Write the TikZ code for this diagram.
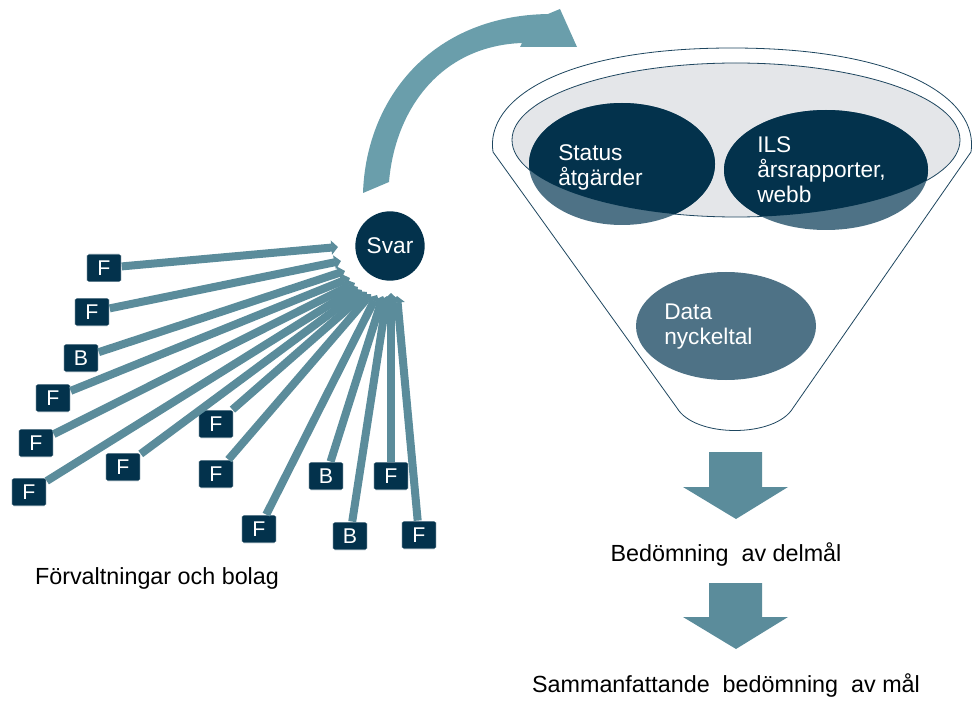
\documentclass[tikz,border=0pt]{standalone}
\usepackage{fontspec}
\setmainfont{Liberation Sans}
\usepackage{xcolor}
\usepackage{tikz}
\usetikzlibrary{positioning,arrows.meta}

\definecolor{navy}{RGB}{3,50,76}
\definecolor{feedteal}{RGB}{91,140,155}
\definecolor{bendteal}{RGB}{106,158,171}
\definecolor{slate}{RGB}{78,114,134}
\definecolor{bowlgrey}{RGB}{228,230,233}
\definecolor{rimline}{RGB}{30,70,95}

\tikzset{
  org/.style={draw=white, line width=0.6pt, fill=navy, text=white, rounded corners=1.5pt,
    minimum width=26pt, minimum height=21pt, inner sep=0pt, font=\fontsize{16}{18}\selectfont},
  feed/.style={feedteal, line width=6pt, -{Triangle[length=5pt,width=10.5pt]}},
  txt/.style={inner sep=0pt, align=left, font=\fontsize{17}{18.75}\selectfont},
  caption/.style={inner sep=0pt, font=\fontsize{17.5}{19}\selectfont}
}

\begin{document}
\begin{tikzpicture}[x=0.75pt,y=-0.75pt]
\useasboundingbox (0,0) rectangle (974,702);

\draw[rimline, line width=0.6pt, fill=white] (677,408) -- (493,152) .. controls (485,100) and (560,48) .. (732,48) .. controls (904,48) and (979,100) .. (971,152) -- (793,408) .. controls (775,438) and (695,438) .. (677,408) -- cycle;
\draw[rimline, line width=0.6pt, fill=bowlgrey] (736,140) ellipse [x radius=224, y radius=77];
\fill[slate] (622,164) ellipse [x radius=93, y radius=61];
\fill[slate] (826,170) ellipse [x radius=102, y radius=60];
\fill[slate] (726,326) ellipse [x radius=90, y radius=54];
\begin{scope}
\clip (736,140) ellipse [x radius=224, y radius=77];
\fill[navy] (622,164) ellipse [x radius=93, y radius=61];
\fill[navy] (826,170) ellipse [x radius=102, y radius=60];
\end{scope}
\node[txt, text=white, anchor=west] (status) at (558,167) {Status\\åtgärder};
\node[txt, text=white, anchor=west] (ils) at (757,170) {ILS\\årsrapporter,\\webb};
\node[txt, text=white, anchor=west] (data) at (664,327) {Data\\nyckeltal};

\fill[bendteal] (363,193) .. controls (366,100) and (430,16) .. (548,14) -- (560,9) -- (577,47) -- (520,47) -- (522,43) .. controls (440,46) and (395,110) .. (389,182) -- cycle;

\node[circle, fill=navy, text=white, minimum size=52pt, inner sep=0pt, font=\fontsize{17}{19}\selectfont] (svar) at (390,246) {Svar};

\node[org] (f1) at (104,268) {F};
\node[org] (f2) at (92,312) {F};
\node[org] (b3) at (81,358) {B};
\node[org] (f4) at (53,398) {F};
\node[org] (f5) at (36,443) {F};
\node[org] (f6) at (29,492) {F};
\node[org] (f7) at (123,467) {F};
\node[org] (f8) at (216,424) {F};
\node[org] (f9) at (216,474) {F};
\node[org] (f10) at (259,529) {F};
\node[org] (b11) at (326,476) {B};
\node[org] (f12) at (391,476) {F};
\node[org] (b13) at (350,536) {B};
\node[org] (f14) at (419,535) {F};

\coordinate (t1) at (338,247);
\coordinate (t2) at (341,261);
\coordinate (t3) at (345,271);
\coordinate (t4) at (350,278);
\coordinate (t5) at (355,283);
\coordinate (t6) at (358,287);
\coordinate (t7) at (362,290);
\coordinate (t8) at (367,292);
\coordinate (t9) at (371,294);
\coordinate (t10) at (377,295);
\coordinate (t11) at (383,296);
\coordinate (t12) at (391,293);
\coordinate (t13) at (387,296);
\coordinate (t14) at (397,296);

\draw[feed] (f1) -- (t1);
\draw[feed] (f2) -- (t2);
\draw[feed] (b3) -- (t3);
\draw[feed] (f4) -- (t4);
\draw[feed] (f5) -- (t5);
\draw[feed] (f6) -- (t6);
\draw[feed] (f7) -- (t7);
\draw[feed] (f8) -- (t8);
\draw[feed] (f9) -- (t9);
\draw[feed] (f10) -- (t10);
\draw[feed] (b11) -- (t11);
\draw[feed] (f12) -- (t12);
\draw[feed] (b13) -- (t13);
\draw[feed] (f14) -- (t14);

\node[caption] (orgs) at (157,578) {Förvaltningar och bolag};

\fill[feedteal] (709,452) -- (762,452) -- (762,487) -- (788,487) -- (736,519) -- (683,487) -- (709,487) -- cycle;
\node[caption] (delmal) at (726,555) {Bedömning\ \ av delmål};
\fill[feedteal] (709,583) -- (762,583) -- (762,617) -- (788,617) -- (736,649) -- (683,617) -- (709,617) -- cycle;
\node[caption] (mal) at (726,686) {Sammanfattande\ \ bedömning\ \ av mål};
\end{tikzpicture}
\end{document}
